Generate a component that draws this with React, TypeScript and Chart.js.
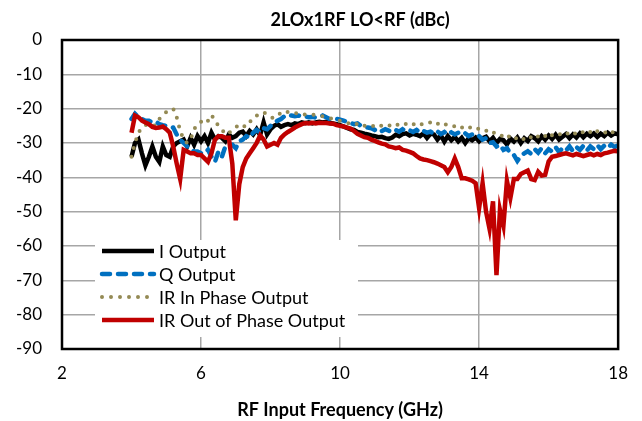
import React, { useEffect, useRef } from 'react';
import { Chart, registerables } from 'chart.js';

Chart.register(...registerables);

const chartTitle = '2LOx1RF LO<RF (dBc)';
const xAxisTitle = 'RF Input Frequency (GHz)';
const xTicks = [2, 6, 10, 14, 18];
const seriesLabels = ['I Output', 'Q Output', 'IR In Phase Output', 'IR Out of Phase Output'];

const freqGHz = [
  4.0, 4.1, 4.2, 4.3, 4.4, 4.5, 4.6, 4.7, 4.8, 4.9,
  5.0, 5.1, 5.2, 5.3, 5.4, 5.5, 5.6, 5.7, 5.8, 5.9,
  6.0, 6.1, 6.2, 6.3, 6.4, 6.5, 6.6, 6.7, 6.8, 6.9,
  7.0, 7.1, 7.2, 7.3, 7.4, 7.5, 7.6, 7.7, 7.8, 7.9,
  8.0, 8.1, 8.2, 8.3, 8.4, 8.5, 8.6, 8.7, 8.8, 8.9,
  9.0, 9.1, 9.2, 9.3, 9.4, 9.5, 9.6, 9.7, 9.8, 9.9,
  10.0, 10.1, 10.2, 10.3, 10.4, 10.5, 10.6, 10.7, 10.8, 10.9,
  11.0, 11.1, 11.2, 11.3, 11.4, 11.5, 11.6, 11.7, 11.8, 11.9,
  12.0, 12.1, 12.2, 12.3, 12.4, 12.5, 12.6, 12.7, 12.8, 12.9,
  13.0, 13.1, 13.2, 13.3, 13.4, 13.5, 13.6, 13.7, 13.8, 13.9,
  14.0, 14.1, 14.2, 14.3, 14.4, 14.5, 14.6, 14.7, 14.8, 14.9,
  15.0, 15.1, 15.2, 15.3, 15.4, 15.5, 15.6, 15.7, 15.8, 15.9,
  16.0, 16.1, 16.2, 16.3, 16.4, 16.5, 16.6, 16.7, 16.8, 16.9,
  17.0, 17.1, 17.2, 17.3, 17.4, 17.5, 17.6, 17.7, 17.8, 17.9,
  18.0,
];

const iOutput = [
  -34, -30, -29, -33, -36.5, -34, -31, -34, -35.5, -31,
  -33.5, -34, -31, -30, -29.5, -29, -31, -28.5, -30.5, -28,
  -29.5, -28, -30, -27, -29, -28, -28.5, -29.5, -27.5, -28.5,
  -28, -27, -26.7, -28, -26.5, -27.5, -26, -27.7, -24, -27.5,
  -26, -25, -24.5, -25.3, -24.8, -24.5, -24.8, -24.3, -24.5, -24,
  -24.2, -24, -24.3, -24, -23.8, -24, -23.8, -24.2, -24.3, -24.5,
  -24.8, -25.2, -25.6, -26, -26.2, -26.8, -27, -27.3, -27.5, -27.8,
  -28, -28.3, -28.2, -28.6, -28.8, -28.4, -27.6, -28, -27.4, -27.2,
  -27.8, -27.3, -27.6, -28, -27.2, -28.5, -27.3, -27.5, -29, -27.8,
  -29.6, -28, -29.2, -28.2, -29.5, -28.5, -30, -28.6, -29.2, -28.4,
  -29.5, -28.6, -28.2, -29.5, -28.5, -30, -28.8, -29.2, -30.4, -28.7,
  -29.6, -28.4, -30, -28.6, -29.4, -28, -28.6, -29.5, -28, -29,
  -27.8, -28.8, -27.6, -29, -28.2, -27.4, -28.6, -27.5, -28.4, -27.2,
  -28.3, -27.3, -28, -27.2, -28.2, -27.3, -28, -27, -27.8, -27.2,
  -27.5,
];

const qOutput = [
  -23, -21.5, -22.5, -23, -23.5, -23.5, -24, -23.8, -24.5, -24.8,
  -25, -25.2, -25.5, -27.5, -29, -30, -31, -31.5, -32.5, -32.5,
  -33, -33, -32, -34, -35.5, -32.5, -34, -31, -30.6, -30.5,
  -31.5, -29.5, -29, -28, -28.5, -27, -26.2, -27, -25.7, -26,
  -25, -24.3, -23.5, -23, -22.2, -21.8, -22, -22.2, -22, -22.3,
  -22.3, -22.5, -22.4, -22.6, -22.5, -22, -22.5, -23, -23.3, -23,
  -23.2, -23.5, -23.8, -24.2, -24.5, -24.3, -25, -25.3, -25.5, -25.7,
  -26.2, -25.8, -26.5, -26, -26.4, -26.8, -26.2, -26.7, -26, -26.6,
  -26.3, -26.8, -26.2, -27, -26.5, -27, -26.7, -27.3, -26.6, -27.4,
  -26.8, -27.6, -26.9, -27.5, -27, -27.6, -27.2, -28, -27.5, -28.2,
  -28, -29, -28.6, -30, -29.8, -31, -30.5, -32, -31.5, -33,
  -33.5, -35.2, -33.8, -33, -32.4, -33.2, -31.8, -32.8, -31.5, -33,
  -31.8, -32.5, -31.2, -32.6, -31.5, -32.2, -31, -32.4, -31.2, -32,
  -30.8, -32.2, -31, -31.8, -30.6, -31.8, -30.8, -31.5, -30.5, -31.2,
  -30.6,
];

const irInPhase = [
  -34, -30, -27, -25.5, -24.8, -24.5, -25, -24.8, -23, -22,
  -21, -20.5, -20, -22.5, -26.5, -29, -30, -29, -26, -24.5,
  -23.8, -24.5, -23.5, -21.8, -23.5, -25, -26, -27.5, -27, -26.5,
  -25.5, -24.5, -25, -25.3, -24, -22.5, -22, -21.5, -21, -21.8,
  -22.5, -22.8, -22, -21.2, -20.6, -21, -21.4, -21.2, -21.6, -21.4,
  -21.8, -21.6, -21.8, -21.8, -22, -22.2, -22.5, -22.8, -23, -23.3,
  -23.5, -23.8, -24.2, -24.4, -24, -24.6, -24.3, -25, -24.6, -24.8,
  -25.3, -24.7, -25, -25.3, -24.8, -25.2, -24.5, -24.8, -24.2, -24.5,
  -24, -24.6, -24.2, -24.8, -24.2, -24.4, -24, -24.7, -24.3, -25,
  -24.5, -24.8, -24.6, -25.2, -24.8, -25.5, -25, -25.6, -25.3, -26,
  -25.8, -26.5, -26.4, -27.2, -26.8, -27.6, -27.5, -28.3, -27.6, -28.5,
  -28, -29, -28.4, -29, -28, -28.4, -27.5, -28.2, -27.4, -28,
  -27, -27.8, -27.2, -27.6, -27, -27.6, -26.8, -27.5, -27, -27.5,
  -26.7, -27.4, -26.8, -27.5, -26.6, -27.2, -26.8, -27.4, -26.6, -27.2,
  -26.8,
];

const irOutOfPhase = [
  -27, -22, -22.5, -23.5, -24, -24.5, -25.3, -25.6, -25.5, -25.2,
  -26, -27, -31, -36, -40.5, -32, -32.5, -33, -33, -33.5,
  -33.5, -34.5, -35.5, -33, -29, -28, -28, -28.5, -28.5, -36,
  -52.5, -42, -37, -34.5, -33, -31.5, -30, -27.8, -29, -31,
  -30.5, -30, -30.5, -28.5, -27.5, -26.8, -26.2, -25.5, -25, -24.5,
  -24.2, -24.3, -24.1, -24.3, -24.1, -24.2, -24.2, -24.3, -24.4, -24.8,
  -25, -25.2, -25.5, -25.8, -26.5, -27.3, -27.8, -28.3, -28.5, -29,
  -29.4, -29.8, -30.2, -30.4, -31, -31.2, -31.5, -31.3, -32, -32.2,
  -32.6, -33, -33.8, -34.5, -34.8, -35, -35.3, -35.6, -36, -36.5,
  -37, -38.5, -37, -34.5, -37, -40.3, -40.3, -40.6, -41, -41.7,
  -49, -41.7, -50, -55, -47, -68.5, -49.5, -54, -41, -46,
  -40.5, -40.5, -39, -38.5, -38, -40.5, -40.8, -38.4, -39.5, -39.3,
  -35.4, -34, -33.8, -33.5, -33.2, -33, -33.3, -33.6, -33.2, -33.5,
  -33.8, -33.5, -33.2, -33.6, -33.2, -33.5, -33, -32.8, -32.5, -32.3,
  -32.4,
];

const FONT = 'Lato';

const titleShiftPlugin = {
  id: 'titleShift',
  afterLayout(chart: any) {
    const tb = chart.titleBlock;
    if (tb) {
      tb.left += 20;
      tb.right += 20;
    }
  },
};

const framePlugin = {
  id: 'plotFrame',
  afterDatasetsDraw(chart: any) {
    const { ctx, chartArea } = chart;
    ctx.save();
    ctx.strokeStyle = '#000';
    ctx.lineWidth = 2.5;
    ctx.strokeRect(chartArea.left, chartArea.top, chartArea.right - chartArea.left, chartArea.bottom - chartArea.top);
    ctx.restore();
  },
};

const legendPlugin = {
  id: 'insideLegend',
  afterDatasetsDraw(chart: any) {
    const { ctx, chartArea } = chart;
    ctx.save();
    const bx = chartArea.left + 33;
    const by = chartArea.top + 200;
    ctx.fillStyle = '#fff';
    ctx.fillRect(bx, by, 263, 97);
    chart.data.datasets.forEach((ds: any, i: number) => {
      const y = chartArea.top + 211 + i * 23;
      ctx.beginPath();
      ctx.setLineDash(ds.borderDash || []);
      ctx.lineCap = ds.borderCapStyle || 'butt';
      ctx.lineWidth = ds.borderWidth;
      ctx.strokeStyle = ds.borderColor;
      ctx.moveTo(chartArea.left + 40, y);
      ctx.lineTo(chartArea.left + 92, y);
      ctx.stroke();
      ctx.setLineDash([]);
      ctx.fillStyle = '#000';
      ctx.font = `18px ${FONT}`;
      ctx.textBaseline = 'middle';
      ctx.textAlign = 'left';
      ctx.fillText(ds.label, chartArea.left + 97, y + 1);
    });
    ctx.restore();
  },
};

function toPoints(values: number[]) {
  return freqGHz.map((f, i) => ({ x: f, y: values[i] }));
}

export default function App() {
  const canvasRef = useRef<HTMLCanvasElement | null>(null);

  useEffect(() => {
    document.body.style.margin = '0';
    const canvas = canvasRef.current;
    if (!canvas) return;
    const chart = new Chart(canvas, {
      type: 'line',
      data: {
        datasets: [
          {
            label: seriesLabels[0],
            data: toPoints(iOutput),
            borderColor: '#000000',
            borderWidth: 4.5,
            pointRadius: 0,
            tension: 0,
            order: 4,
          },
          {
            label: seriesLabels[1],
            data: toPoints(qOutput),
            borderColor: '#0070C0',
            borderWidth: 4.5,
            borderDash: [8, 8],
            borderCapStyle: 'round',
            pointRadius: 0,
            tension: 0,
            order: 3,
          },
          {
            label: seriesLabels[2],
            data: toPoints(irInPhase),
            borderColor: '#948A54',
            borderWidth: 4,
            borderDash: [0, 9],
            borderCapStyle: 'round',
            pointRadius: 0,
            tension: 0,
            order: 2,
          },
          {
            label: seriesLabels[3],
            data: toPoints(irOutOfPhase),
            borderColor: '#C00000',
            borderWidth: 4.5,
            pointRadius: 0,
            tension: 0,
            order: 1,
          },
        ],
      },
      options: {
        responsive: false,
        animation: false,
        devicePixelRatio: 1,
        layout: { padding: { top: 0, left: 0, right: 22, bottom: 0 } },
        plugins: {
          legend: { display: false },
          tooltip: { enabled: false },
          title: {
            display: true,
            text: chartTitle,
            fullSize: false,
            color: '#000',
            font: { family: FONT, size: 18, weight: 'bold', lineHeight: 1.2 },
            padding: { top: 9, bottom: 9.4 },
          },
        },
        scales: {
          x: {
            type: 'linear',
            min: 2,
            max: 18,
            afterBuildTicks: (scale: any) => {
              scale.ticks = xTicks.map((v) => ({ value: v }));
            },
            afterFit: (scale: any) => {
              scale.height = 72;
            },
            grid: { color: '#A6A6A6', lineWidth: 1.5, drawTicks: false },
            border: { display: false },
            ticks: {
              color: '#000',
              padding: 14,
              font: { family: FONT, size: 17 },
            },
            title: {
              display: true,
              text: xAxisTitle,
              color: '#000',
              font: { family: FONT, size: 18, weight: 'bold', lineHeight: 1.2 },
              padding: { top: 0, bottom: 0 },
            },
          },
          y: {
            type: 'linear',
            min: -90,
            max: 0,
            afterFit: (scale: any) => {
              scale.width = 62;
            },
            grid: { color: '#A6A6A6', lineWidth: 1.5, drawTicks: false },
            border: { display: false },
            ticks: {
              stepSize: 10,
              color: '#000',
              padding: 20,
              font: { family: FONT, size: 17 },
            },
          },
        },
      },
      plugins: [titleShiftPlugin, framePlugin, legendPlugin],
    } as any);
    return () => chart.destroy();
  }, []);

  return (
    <div style={{ width: 642, height: 421 }}>
      <canvas ref={canvasRef} width={642} height={421} style={{ display: 'block' }} />
    </div>
  );
}
